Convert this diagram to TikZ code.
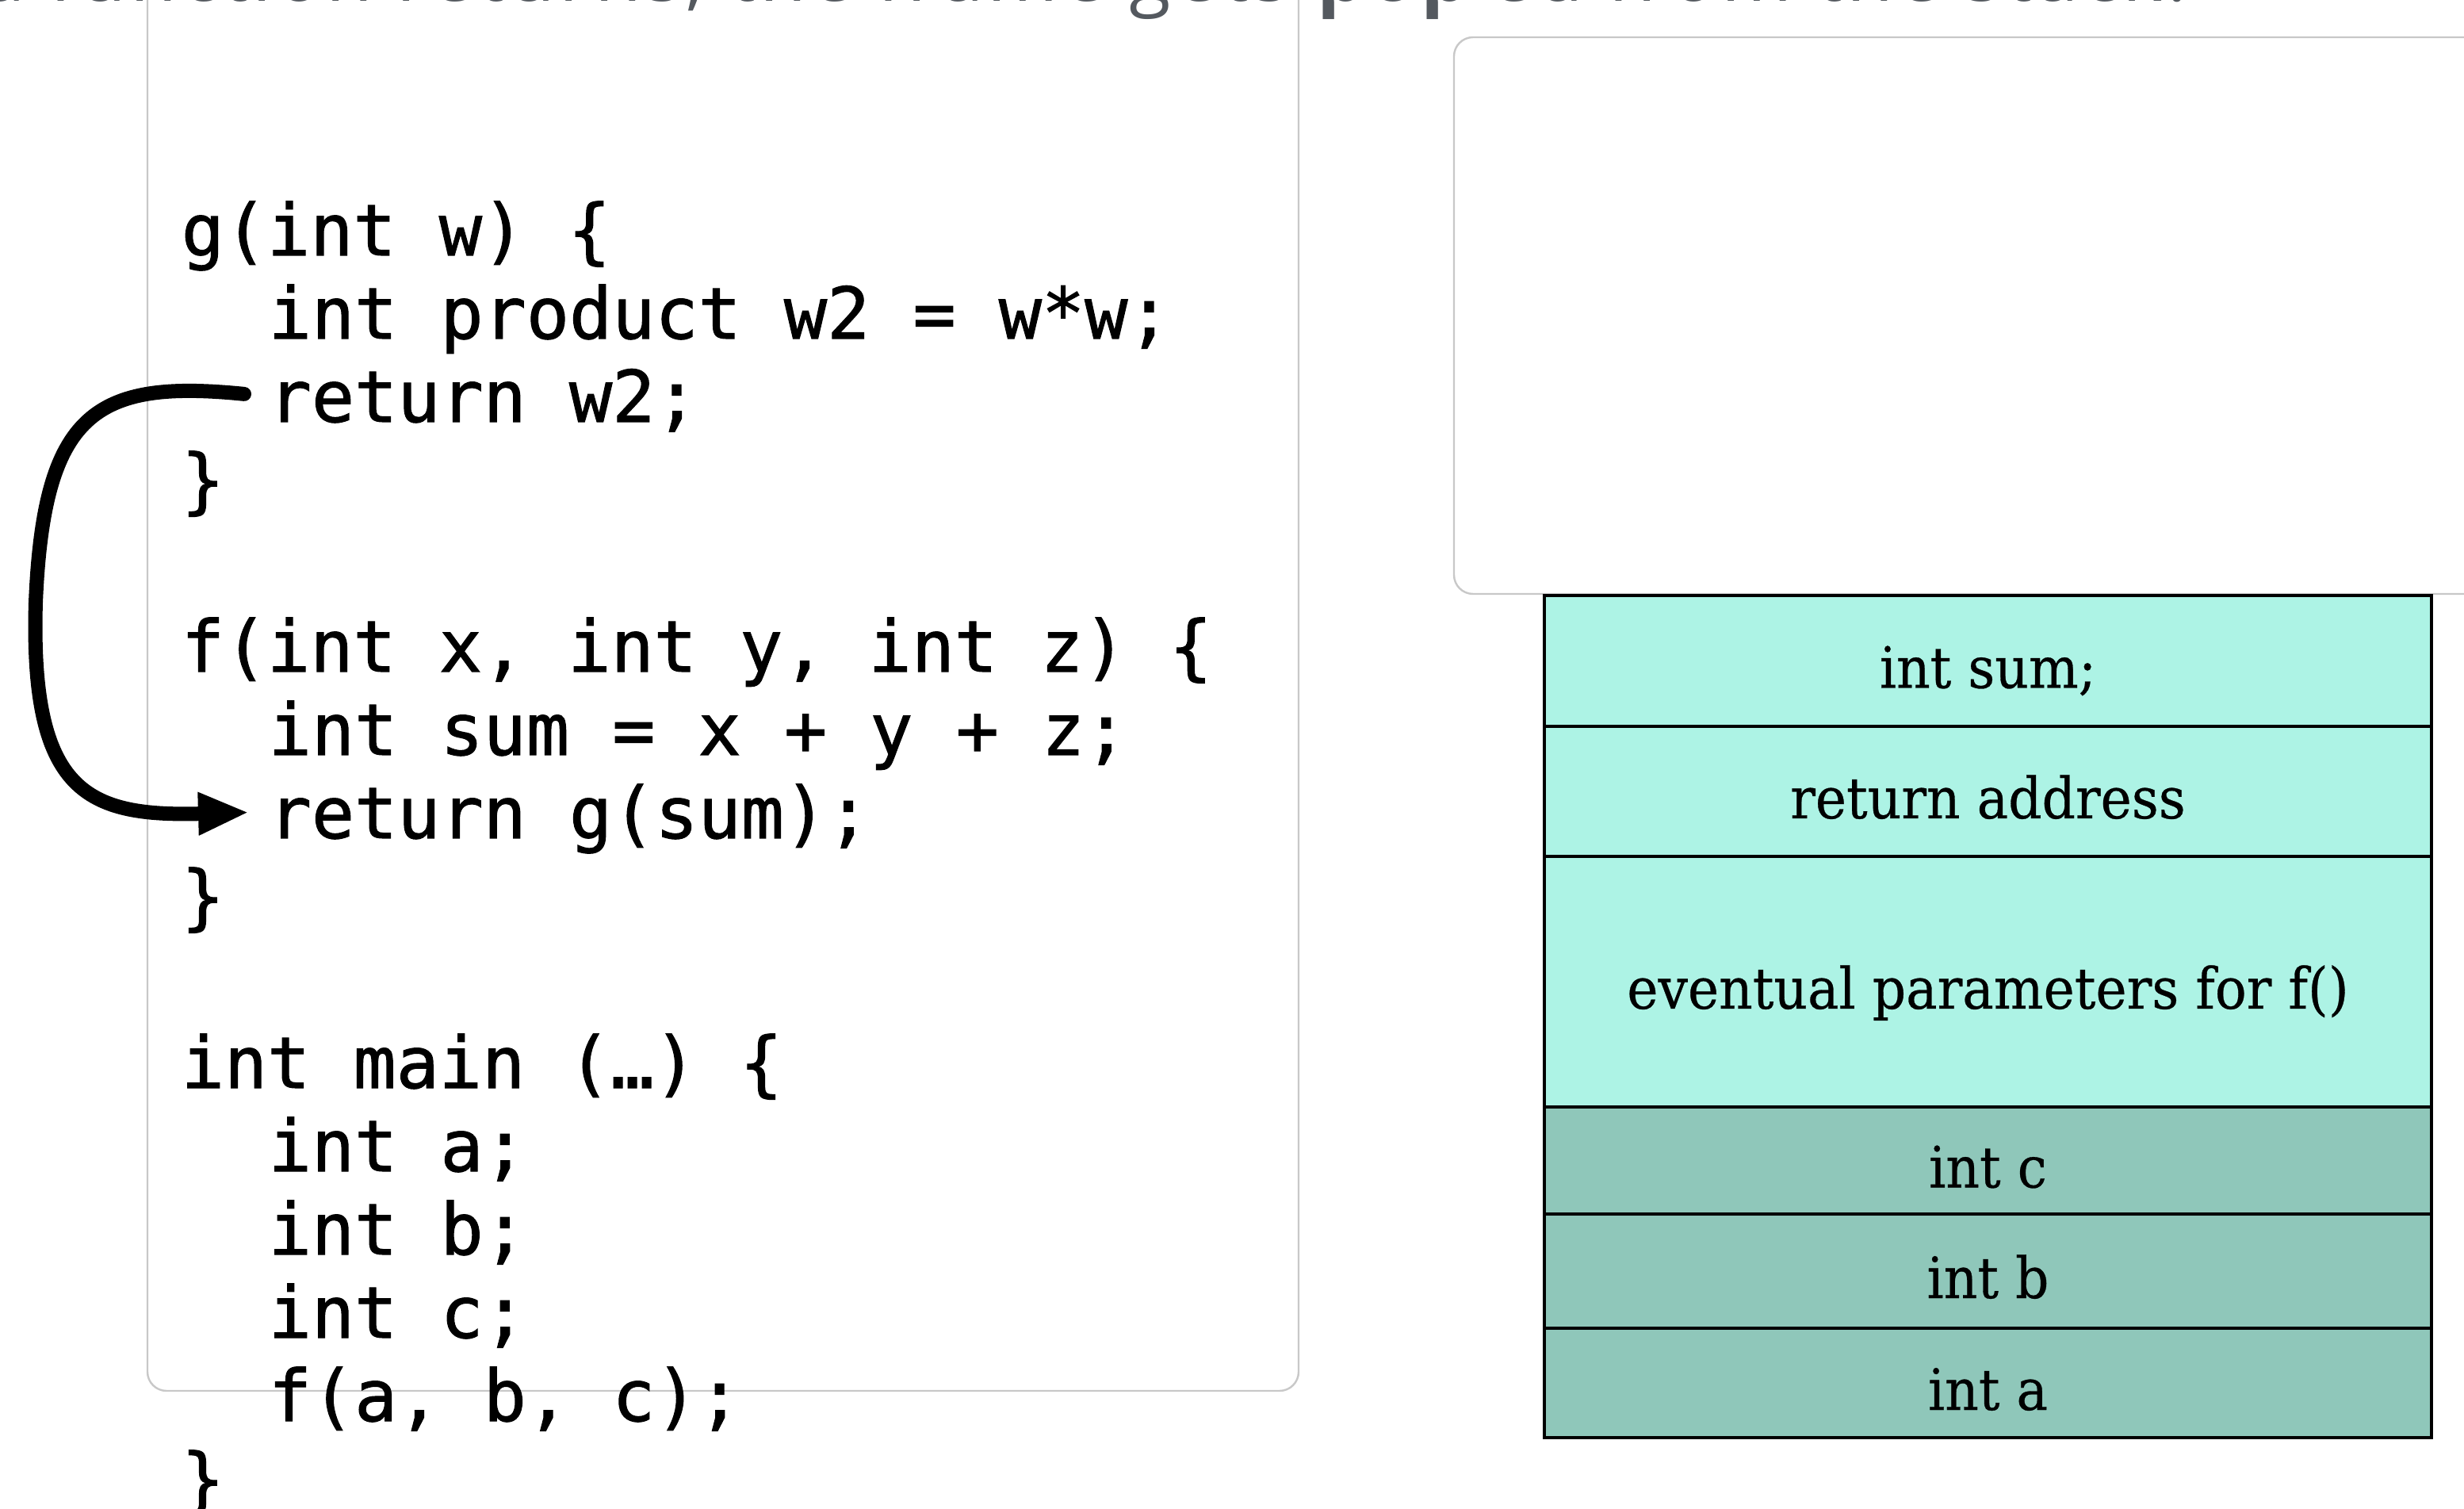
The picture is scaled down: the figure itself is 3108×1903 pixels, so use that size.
\documentclass[tikz,border=0pt]{standalone}
\usepackage{fontspec}
\newfontfamily\codefont{DejaVu Sans Mono}[FakeBold=1.2]
\newfontfamily\stackfont{DejaVu Serif}[FakeStretch=0.92,FakeBold=0.4]
\newfontfamily\slidefont{Open Sans}[LetterSpace=5.5]
\usetikzlibrary{positioning,arrows.meta}
\definecolor{calleecell}{RGB}{173,243,229}
\definecolor{callercell}{RGB}{143,199,186}
\definecolor{slidegray}{RGB}{84,89,95}
\definecolor{panelgray}{RGB}{200,200,200}
\tikzset{
  codeline/.style={anchor=base west, inner sep=0pt, font=\codefont\fontsize{22.5}{26}\selectfont},
  cell/.style={draw=black, line width=1pt, outer sep=0pt, minimum width=279.75pt,
    text height=17pt, text depth=0pt, font=\stackfont\fontsize{18}{22}\selectfont},
  panel/.style={draw=panelgray, line width=0.6pt, rounded corners=6pt},
  callarrow/.style={line width=4.5pt, line cap=round, -{Triangle[length=16pt,width=12.5pt]}}
}
\begin{document}
\begin{tikzpicture}[x=0.25pt,y=-0.25pt]
  \useasboundingbox (0,0) rectangle (3108,1903);
  \begin{scope}
  \clip (0,0) rectangle (3108,1903);
  % slide text, cut at the top
  \node[anchor=base east, inner sep=0pt, text=slidegray, font=\slidefont\fontsize{24}{28}\selectfont] (caption) at (2760,2)
    {When a function returns, the frame gets \textbf{pop}'ed from the stack.};

  % panels
  \draw[panel] (186,-60) rectangle (1638,1754);
  \draw[panel] (1834,47) rectangle (3200,749);

  % code
  \node[codeline] (gdef) at (228,322) {g(int w) \{};
  \node[codeline] (gprod) at (338,427) {int product w2 = w*w;};
  \node[codeline] (retw) at (338,532) {return w2;};
  \node[codeline] (gend) at (228,637) {\}};
  \node[codeline] (fdef) at (228,847) {f(int x, int y, int z) \{};
  \node[codeline] (fsum) at (338,952) {int sum = x + y + z;};
  \node[codeline] (retg) at (338,1057) {return g(sum);};
  \node[codeline] (fend) at (228,1162) {\}};
  \node[codeline] (mdef) at (228,1372) {int main (…) \{};
  \node[codeline] (ma) at (338,1477) {int a;};
  \node[codeline] (mb) at (338,1582) {int b;};
  \node[codeline] (mc) at (338,1687) {int c;};
  \node[codeline] (mcall) at (338,1792) {f(a, b, c);};
  \node[codeline] (mend) at (228,1897) {\}};

  % stack
  \node[cell, fill=calleecell, minimum height=41.25pt, anchor=north] (sum) at (2507.5,751) {int sum;};
  \node[cell, fill=calleecell, minimum height=41pt, below=0pt of sum] (retaddr) {return address};
  \node[cell, fill=calleecell, minimum height=79pt, below=0pt of retaddr] (params) {eventual parameters for f()};
  \node[cell, fill=callercell, minimum height=33.75pt, below=0pt of params] (intc) {int c};
  \node[cell, fill=callercell, minimum height=36pt, below=0pt of intc] (intb) {int b};
  \node[cell, fill=callercell, minimum height=34.5pt, below=0pt of intb] (inta) {int a};

  \draw[callarrow] ([xshift=-7.5pt,yshift=2pt]retw.west) .. controls (120,478) and (55,520) .. (45,760)
    .. controls (38,1000) and (110,1030) .. ([xshift=-6pt,yshift=2pt]retg.west);
  \end{scope}
\end{tikzpicture}
\end{document}
